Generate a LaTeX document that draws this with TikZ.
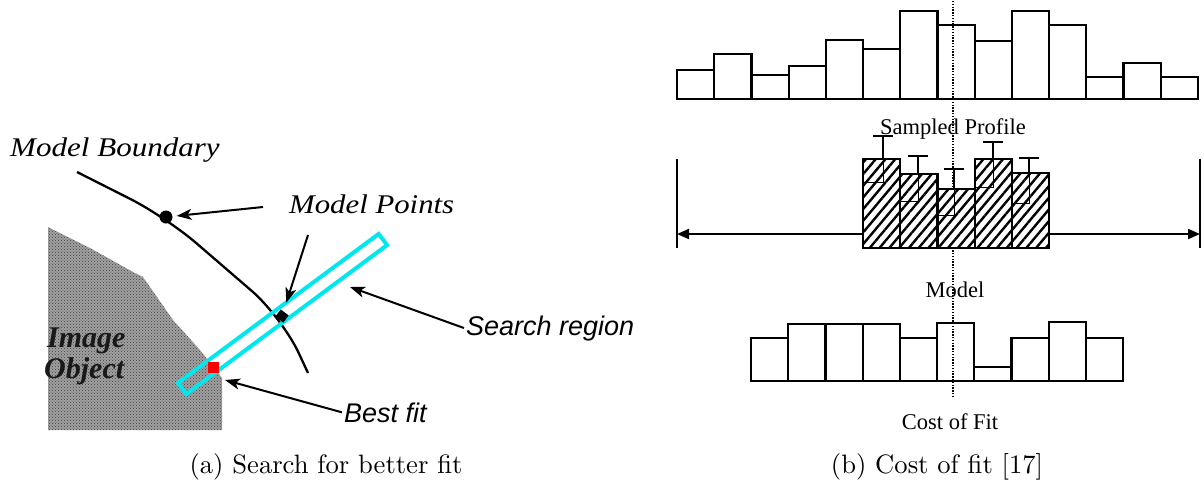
\documentclass[tikz,border=0pt]{standalone}
\usepackage{fontspec}
\usepackage{graphicx}
\usetikzlibrary{arrows.meta,patterns,patterns.meta,calc}
\newfontfamily\lserif{Liberation Serif}
\newfontfamily\lsans{Liberation Sans}
\definecolor{cyanbar}{RGB}{0,232,238}
\definecolor{objgray}{RGB}{160,160,160}
\begin{document}
\begin{tikzpicture}[x=1pt,y=-1pt,
  bar/.style={draw=black,line width=2.2pt,line join=miter},
  hatchbar/.style={bar,preaction={fill=white},pattern={Lines[angle=50,distance=7.5pt,line width=2.4pt]}},
  errbar/.style={draw=black,line width=2pt},
  innerln/.style={draw=black,line width=0.8pt},
  dimline/.style={draw=black,line width=2pt},
  dimtip/.style={-{Triangle[length=12pt,width=10pt]}},
  centerline/.style={draw=black,line width=1.3pt,dash pattern=on 1.4pt off 1.4pt},
  proflbl/.style={font=\lserif\fontsize{22.5}{27}\selectfont,inner sep=0},
  itlbl/.style={font=\lserif\itshape\fontsize{27}{32}\selectfont,inner sep=0},
  sanslbl/.style={font=\lsans\itshape\fontsize{27}{32}\selectfont,inner sep=0},
  objlbl/.style={font=\lserif\bfseries\itshape\fontsize{30}{34}\selectfont,inner sep=0,text=black!90},
  pointer/.style={draw=black,line width=2pt,-{Stealth[length=15pt,width=11pt,inset=4pt]}},
  caplbl/.style={inner sep=0}
]
\useasboundingbox (0,0) rectangle (1204,491);

% ================= (a) =================
% image object
\fill[objgray] (48,227) -- (90,248) -- (133,272) -- (143,277) -- (173,320) -- (200,350) -- (222,378) -- (222,430) -- (48,430) -- cycle;
\fill[pattern=crosshatch dots,pattern color=black!75] (48,227) -- (90,248) -- (133,272) -- (143,277) -- (173,320) -- (200,350) -- (222,378) -- (222,430) -- (48,430) -- cycle;
\node[objlbl,anchor=base west] (img) at (47,347) {Image};
\node[objlbl,anchor=base west] (obj) at (44,378) {Object};

% model boundary
\draw[line width=2.3pt,rounded corners=40pt] (77,172) -- (166,217) -- (282,317) -- (308,373);

% search region
\draw[cyanbar,line width=4pt,line join=miter] (177.9,382.9) -- (186.3,394.1) -- (387.1,245.1) -- (378.7,233.9) -- cycle;

% model points
\node[circle,fill=black,inner sep=0,minimum size=13pt] (dot1) at (166,217) {};
\node[rectangle,fill=black,inner sep=0,minimum width=10pt,minimum height=9pt,rotate=-37] (dot2) at (282,316) {};
\node[rectangle,fill=red,inner sep=0,minimum size=11pt] (best) at (213,367) {};

% labels
\node[itlbl,anchor=base west] (mb) at (10,156) {\scalebox{1.15}[1]{Model Boundary}};
\node[itlbl,anchor=base west] (mp) at (289,213) {\scalebox{1.14}[1]{Model Points}};
\node[sanslbl,anchor=base west] (sr) at (466,335) {Search region};
\node[sanslbl,anchor=base west] (bf) at (344,422) {Best fit};

% pointers
\coordinate (mpA) at (263,207);
\coordinate (mpB) at (308,235);
\coordinate (srTip) at (350,287);
\coordinate (bfTip) at (225,380);
\draw[pointer,shorten >=4pt] (mpA) -- (dot1);
\draw[pointer,shorten >=9pt] (mpB) -- (dot2);
\draw[pointer] ($(sr.west)+(-2,0)$) -- (srTip);
\draw[pointer] ($(bf.west)+(-2,0)$) -- (bfTip);

% ================= (b) =================
% centre line
\draw[centerline] (953,1) -- (953,397);

% sampled profile
\foreach \t [count=\i from 0] in {70,54,75,66,40,49,11,25,41,11,25,77,63,77}
  \draw[bar] ({677+\i*37.214},99) rectangle ({677+(\i+1)*37.214},\t);
\node[proflbl,anchor=base] (sp) at (953,134) {Sampled Profile};

% model
\foreach \t/\s/\tt/\l [count=\i from 0] in {159/883/136/182, 174/918/156/201, 189/954/169/215, 159/993/142/187, 173/1029/158/203}{
  \draw[hatchbar] ({863+\i*37.2},248) rectangle ({863+(\i+1)*37.2},\t);
  \draw[innerln] ({863+\i*37.2},\l) -- (\s,\l) -- (\s,\t);
  \draw[errbar] (\s,\t) -- (\s,\tt);
  \draw[errbar] ({\s-10},\tt) -- ({\s+10},\tt);
}
\coordinate (mL) at (863,234);
\coordinate (mR) at (1049,234);
\coordinate (eL) at (677,234);
\coordinate (eR) at (1200,234);
\draw[dimline] (677,159) -- (677,248);
\draw[dimline] (1200,159) -- (1200,248);
\draw[dimline,dimtip] (mL) -- (eL);
\draw[dimline,dimtip] (mR) -- (eR);
\node[proflbl,anchor=base] (md) at (955,297) {Model};

% cost of fit
\foreach \t [count=\i from 0] in {338,324,324,324,338,323,367,338,322,338}
  \draw[bar] ({751+\i*37.2},381) rectangle ({751+(\i+1)*37.2},\t);
\node[proflbl,anchor=base] (cf) at (950,429) {Cost of Fit};

% ================= captions =================
\node[caplbl,anchor=base] (capa) at (326,473) {\scalebox{2.66}{(a) Search for better fit}};
\node[caplbl,anchor=base] (capb) at (937,473) {\scalebox{2.66}{(b) Cost of fit [17]}};
\end{tikzpicture}
\end{document}
